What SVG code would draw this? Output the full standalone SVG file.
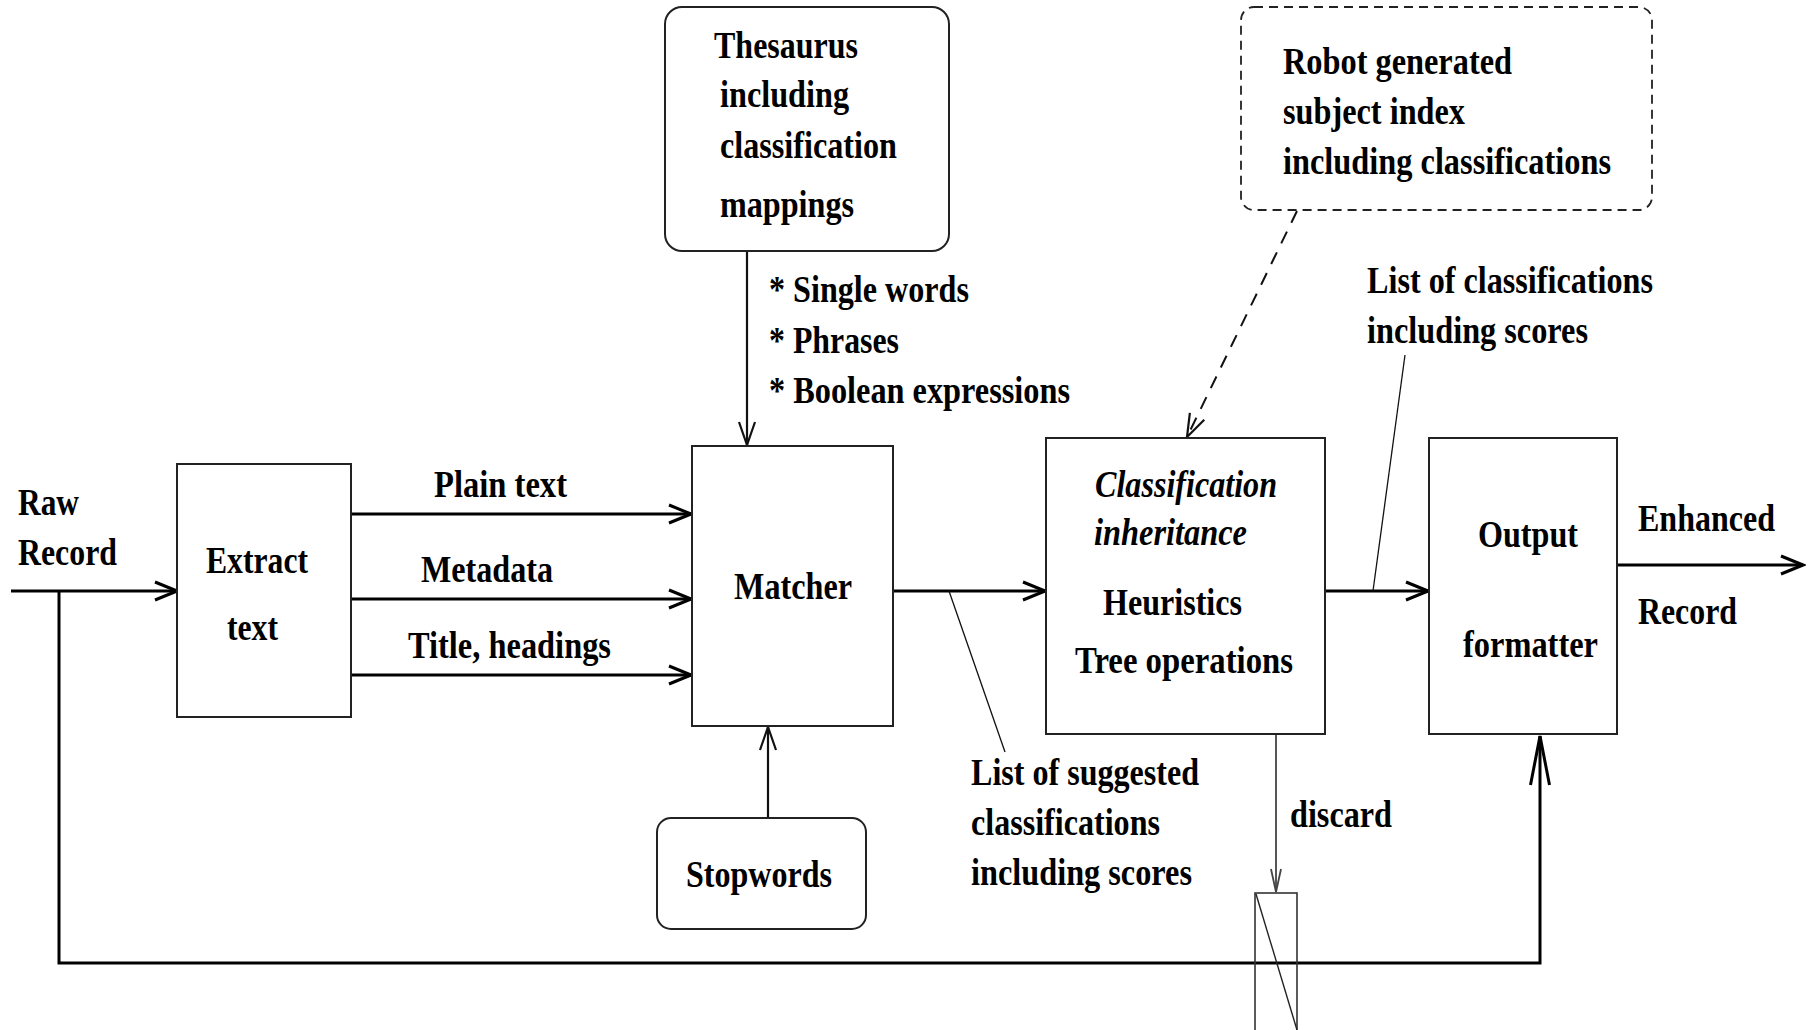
<svg xmlns="http://www.w3.org/2000/svg" width="1810" height="1030" viewBox="0 0 1810 1030">
  <style>
    .t { font-family: "Liberation Serif", "Times New Roman", serif; font-weight: bold; font-size: 37px; fill: #000; }
    .it { font-family: "Liberation Serif", "Times New Roman", serif; font-style: italic; font-weight: bold; font-size: 37px; fill: #000; }
    .box { fill: #fff; stroke: #222; stroke-width: 2; }
    .dbox { fill: none; stroke: #222; stroke-width: 1.8; stroke-dasharray: 9 6; }
    .thick { fill: none; stroke: #000; stroke-width: 3; }
    .med { fill: none; stroke: #111; stroke-width: 2.2; }
    .thin { fill: none; stroke: #111; stroke-width: 1.3; }
    .gray { fill: none; stroke: #444; stroke-width: 1.8; }
    .dash { fill: none; stroke: #111; stroke-width: 2; stroke-dasharray: 13 10; }
  </style>
  <defs>
    <marker id="arr" markerUnits="userSpaceOnUse" viewBox="0 0 26 22" markerWidth="26" markerHeight="22" refX="23" refY="11" orient="auto">
      <path d="M1,2 L23,11 L1,20" fill="none" stroke="#000" stroke-width="3"/>
    </marker>
    <marker id="arrMed" markerUnits="userSpaceOnUse" viewBox="0 0 26 20" markerWidth="26" markerHeight="20" refX="24" refY="10" orient="auto">
      <path d="M1,2 L24,10 L1,18" fill="none" stroke="#111" stroke-width="2.2"/>
    </marker>
    <marker id="arrThin" markerUnits="userSpaceOnUse" viewBox="0 0 26 14" markerWidth="26" markerHeight="14" refX="24" refY="7" orient="auto">
      <path d="M1,2 L24,7 L1,12" fill="none" stroke="#444" stroke-width="1.8"/>
    </marker>
    <marker id="arrLong" markerUnits="userSpaceOnUse" viewBox="0 0 52 24" markerWidth="52" markerHeight="24" refX="50" refY="12" orient="auto">
      <path d="M1,2.5 L50,12 L1,21.5" fill="none" stroke="#000" stroke-width="3"/>
    </marker>
  </defs>

  <!-- connectors -->
  <g id="connectors">
    <!-- raw record in, and bypass to output formatter -->
    <line class="thick" x1="11" y1="591" x2="177" y2="591" marker-end="url(#arr)"/>
    <path class="thick" d="M59,591 V963 H1540 V736" stroke-width="3.5" marker-end="url(#arrLong)"/>
    <!-- extract text to matcher -->
    <line class="thick" x1="351" y1="514" x2="691" y2="514" marker-end="url(#arr)"/>
    <line class="thick" x1="351" y1="599" x2="691" y2="599" marker-end="url(#arr)"/>
    <line class="thick" x1="351" y1="675" x2="691" y2="675" marker-end="url(#arr)"/>
    <!-- thesaurus and stopwords into matcher -->
    <line class="med" x1="747" y1="251" x2="747" y2="445" marker-end="url(#arrMed)"/>
    <line class="med" x1="768" y1="818" x2="768" y2="727" marker-end="url(#arrMed)"/>
    <!-- matcher to classification -->
    <line class="thick" x1="893" y1="591" x2="1045" y2="591" marker-end="url(#arr)"/>
    <line class="thin" x1="949" y1="591" x2="1005" y2="752"/>
    <!-- robot index into classification (dashed) -->
    <line class="dash" x1="1297" y1="211" x2="1187" y2="437" marker-end="url(#arrMed)"/>
    <!-- classification to output formatter -->
    <line class="thick" x1="1325" y1="591" x2="1428" y2="591" marker-end="url(#arr)"/>
    <line class="thin" x1="1405" y1="355" x2="1373" y2="591"/>
    <!-- output -->
    <line class="thick" x1="1609" y1="565" x2="1803" y2="565" marker-end="url(#arr)"/>
    <!-- discard -->
    <line class="gray" x1="1276" y1="734" x2="1276" y2="892" marker-end="url(#arrThin)"/>
  </g>

  <g id="raw-record">
    <text class="t" x="18" y="515" textLength="61" lengthAdjust="spacingAndGlyphs">Raw</text>
    <text class="t" x="18" y="565" textLength="99" lengthAdjust="spacingAndGlyphs">Record</text>
  </g>

  <g id="extract-text">
    <rect class="box" x="177" y="464" width="174" height="253"/>
    <text class="t" x="206" y="573" textLength="102" lengthAdjust="spacingAndGlyphs">Extract</text>
    <text class="t" x="227" y="640" textLength="51" lengthAdjust="spacingAndGlyphs">text</text>
  </g>

  <g id="stream-labels">
    <text class="t" x="434" y="497" textLength="133" lengthAdjust="spacingAndGlyphs">Plain text</text>
    <text class="t" x="421" y="582" textLength="132" lengthAdjust="spacingAndGlyphs">Metadata</text>
    <text class="t" x="408" y="658" textLength="203" lengthAdjust="spacingAndGlyphs">Title, headings</text>
  </g>

  <g id="thesaurus">
    <rect class="box" x="665" y="7" width="284" height="244" rx="17" ry="17"/>
    <text class="t" x="714" y="58" textLength="144" lengthAdjust="spacingAndGlyphs">Thesaurus</text>
    <text class="t" x="720" y="107" textLength="129" lengthAdjust="spacingAndGlyphs">including</text>
    <text class="t" x="720" y="158" textLength="177" lengthAdjust="spacingAndGlyphs">classification</text>
    <text class="t" x="720" y="217" textLength="134" lengthAdjust="spacingAndGlyphs">mappings</text>
  </g>

  <g id="term-types">
    <text class="t" x="769" y="302" textLength="200" lengthAdjust="spacingAndGlyphs">* Single words</text>
    <text class="t" x="769" y="353" textLength="130" lengthAdjust="spacingAndGlyphs">* Phrases</text>
    <text class="t" x="769" y="403" textLength="301" lengthAdjust="spacingAndGlyphs">* Boolean expressions</text>
  </g>

  <g id="matcher">
    <rect class="box" x="692" y="446" width="201" height="280"/>
    <text class="t" x="734" y="599" textLength="118" lengthAdjust="spacingAndGlyphs">Matcher</text>
  </g>

  <g id="stopwords">
    <rect class="box" x="657" y="818" width="209" height="111" rx="14" ry="14"/>
    <text class="t" x="686" y="887" textLength="146" lengthAdjust="spacingAndGlyphs">Stopwords</text>
  </g>

  <g id="suggested-list">
    <text class="t" x="971" y="785" textLength="228" lengthAdjust="spacingAndGlyphs">List of suggested</text>
    <text class="t" x="971" y="835" textLength="189" lengthAdjust="spacingAndGlyphs">classifications</text>
    <text class="t" x="971" y="885" textLength="221" lengthAdjust="spacingAndGlyphs">including scores</text>
  </g>

  <g id="robot-index">
    <rect class="dbox" x="1241" y="7" width="411" height="203" rx="13" ry="13"/>
    <text class="t" x="1283" y="74" textLength="229" lengthAdjust="spacingAndGlyphs">Robot generated</text>
    <text class="t" x="1283" y="124" textLength="182" lengthAdjust="spacingAndGlyphs">subject index</text>
    <text class="t" x="1283" y="174" textLength="328" lengthAdjust="spacingAndGlyphs">including classifications</text>
  </g>

  <g id="classification">
    <rect class="box" x="1046" y="438" width="279" height="296"/>
    <text class="it" x="1095" y="497" textLength="182" lengthAdjust="spacingAndGlyphs">Classification</text>
    <text class="it" x="1094" y="545" textLength="153" lengthAdjust="spacingAndGlyphs">inheritance</text>
    <text class="t" x="1103" y="615" textLength="139" lengthAdjust="spacingAndGlyphs">Heuristics</text>
    <text class="t" x="1075" y="673" textLength="218" lengthAdjust="spacingAndGlyphs">Tree operations</text>
  </g>

  <g id="final-list">
    <text class="t" x="1367" y="293" textLength="286" lengthAdjust="spacingAndGlyphs">List of classifications</text>
    <text class="t" x="1367" y="343" textLength="221" lengthAdjust="spacingAndGlyphs">including scores</text>
  </g>

  <g id="output-formatter">
    <rect class="box" x="1429" y="438" width="188" height="296"/>
    <text class="t" x="1478" y="547" textLength="100" lengthAdjust="spacingAndGlyphs">Output</text>
    <text class="t" x="1463" y="657" textLength="135" lengthAdjust="spacingAndGlyphs">formatter</text>
  </g>

  <g id="enhanced-record">
    <text class="t" x="1638" y="531" textLength="137" lengthAdjust="spacingAndGlyphs">Enhanced</text>
    <text class="t" x="1638" y="624" textLength="99" lengthAdjust="spacingAndGlyphs">Record</text>
  </g>

  <g id="discard">
    <text class="t" x="1290" y="827" textLength="102" lengthAdjust="spacingAndGlyphs">discard</text>
    <rect x="1255" y="893" width="42" height="150" fill="none" stroke="#333" stroke-width="1.6"/>
    <line x1="1256" y1="894" x2="1297" y2="1030" stroke="#222" stroke-width="1.4"/>
  </g>
</svg>
